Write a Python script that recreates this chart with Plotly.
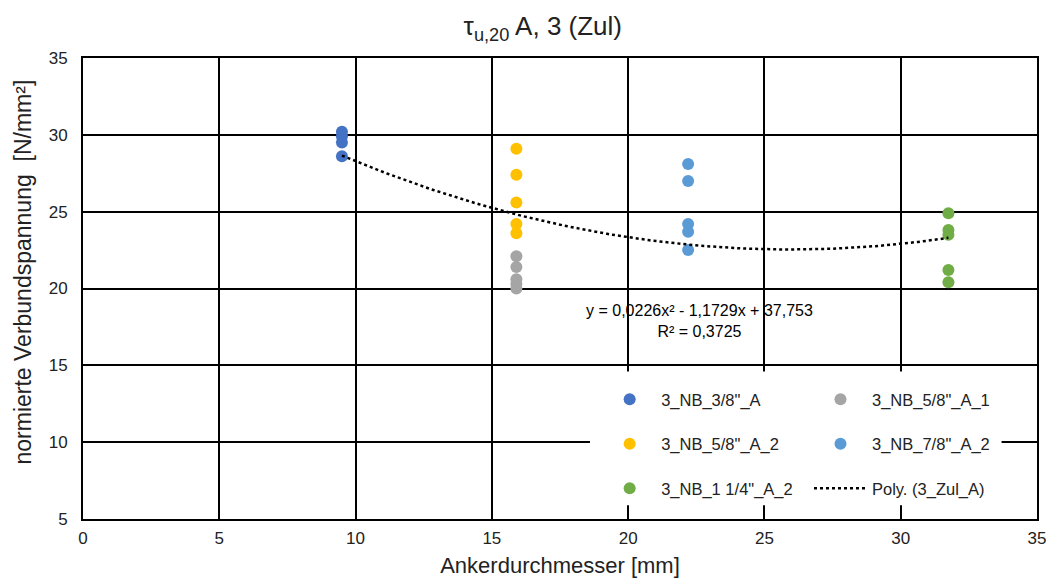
import numpy as np
import plotly.graph_objects as go

# ---- data ----
x_38 = [9.5, 9.5, 9.5, 9.5]
y_38 = [30.2, 29.9, 29.5, 28.6]

x_58_1 = [15.9, 15.9, 15.9, 15.9, 15.9]
y_58_1 = [22.1, 21.4, 20.6, 20.3, 20.0]

x_58_2 = [15.9, 15.9, 15.9, 15.9, 15.9]
y_58_2 = [29.1, 27.4, 25.6, 24.2, 23.6]

x_78_2 = [22.2, 22.2, 22.2, 22.2, 22.2]
y_78_2 = [28.1, 27.0, 24.2, 23.7, 22.5]

x_114_2 = [31.75, 31.75, 31.75, 31.75, 31.75]
y_114_2 = [24.9, 23.8, 23.5, 21.2, 20.4]

poly_coef = [0.0226, -1.1729, 37.753]   # y = a x^2 + b x + c
poly_x_range = [9.5, 31.75]
eq_text = "y = 0,0226x² - 1,1729x + 37,753<br>R² = 0,3725"

x_ticks = [0, 5, 10, 15, 20, 25, 30, 35]
y_ticks = [5, 10, 15, 20, 25, 30, 35]

names = ['3_NB_3/8"_A', '3_NB_5/8"_A_1', '3_NB_5/8"_A_2', '3_NB_7/8"_A_2', '3_NB_1 1/4"_A_2']
colors = ["#4472C4", "#A5A5A5", "#FFC000", "#5B9BD5", "#70AD47"]
legends = ["legend", "legend2", "legend", "legend2", "legend"]
series = [(x_38, y_38), (x_58_1, y_58_1), (x_58_2, y_58_2), (x_78_2, y_78_2), (x_114_2, y_114_2)]

font_main = "Liberation Sans, Arial, sans-serif"
txt = "#222"

fig = go.Figure()
for (xs, ys), n, c, lg in zip(series, names, colors, legends):
    fig.add_trace(go.Scatter(x=xs, y=ys, mode="markers", name=n, legend=lg, legendgroup=n,
                             marker=dict(color=c, size=12)))

px = np.linspace(poly_x_range[0], poly_x_range[1], 200)
py = np.polyval(poly_coef, px)
fig.add_trace(go.Scatter(x=px, y=py, mode="lines", name="Poly. (3_Zul_A)", legend="legend2",
                         legendgroup="poly", line=dict(color="black", width=2.5, dash="dot")))

# white box behind legend
fig.add_shape(type="rect", xref="x", yref="y", x0=18.6, x1=33.7, y0=5.9, y1=14.6,
              fillcolor="white", line_width=0, layer="between")

fig.add_annotation(x=22.6, y=17.9, xref="x", yref="y", text=eq_text, showarrow=False,
                   font=dict(size=16, color="black", family=font_main), align="center")

# y-axis title
fig.add_annotation(x=-0.0633, y=0.536, xref="paper", yref="paper",
                   text="normierte Verbundspannung  [N/mm²]", textangle=-90, showarrow=False,
                   xanchor="center", yanchor="middle",
                   font=dict(size=23, color=txt, family=font_main))

legend_common = dict(bgcolor="rgba(0,0,0,0)", font=dict(size=16.5, color=txt, family=font_main),
                     orientation="v", xanchor="left", yanchor="top", itemwidth=53,
                     tracegroupgap=20, traceorder="grouped")

fig.update_layout(
    width=1054, height=584,
    margin=dict(l=83, r=8, t=58, b=65),
    paper_bgcolor="white", plot_bgcolor="white",
    title=dict(text="τ<sub>u,20</sub> A, 3 (Zul)", x=0.515, xref="container", y=0.955,
               xanchor="center", yanchor="middle",
               font=dict(size=26, color=txt, family=font_main)),
    xaxis=dict(range=[0, 35], tickvals=x_ticks, showgrid=True, gridcolor="black", gridwidth=2,
               showline=True, linecolor="black", linewidth=2, mirror=True, zeroline=False,
               ticks="", ticklabelstandoff=3, tickfont=dict(size=17, color=txt, family=font_main),
               title=dict(text="Ankerdurchmesser [mm]", standoff=10,
                          font=dict(size=22, color=txt, family=font_main))),
    yaxis=dict(range=[5, 35], tickvals=y_ticks, showgrid=True, gridcolor="black", gridwidth=2,
               showline=True, linecolor="black", linewidth=2, mirror=True, zeroline=False,
               ticks="", ticklabelstandoff=10, tickfont=dict(size=17, color=txt, family=font_main)),
    legend=dict(x=0.540, y=0.297, **legend_common),
    legend2=dict(x=0.761, y=0.297, **legend_common),
    showlegend=True,
)

fig.write_html("out.html")
